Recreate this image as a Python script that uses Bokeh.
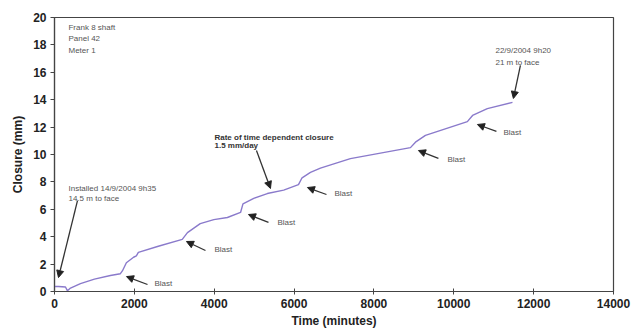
from bokeh.plotting import figure
from bokeh.models import Range1d, Arrow, NormalHead, Label, FixedTicker
from bokeh.embed import file_html
from bokeh.resources import INLINE

time_min = [0, 100, 275, 325, 400, 650, 1000, 1400, 1650, 1700, 1800, 1980, 2050, 2100,
            2600, 3200, 3330, 3650, 3990, 4330, 4660, 4720, 4990, 5330, 5740, 6110,
            6200, 6410, 6660, 7410, 8915, 9040, 9290, 10340, 10470, 10840, 11470]
closure_mm = [0.37, 0.37, 0.33, 0.05, 0.25, 0.58, 0.9, 1.17, 1.3, 1.5, 2.1, 2.5, 2.6, 2.85,
              3.3, 3.8, 4.3, 4.95, 5.25, 5.4, 5.77, 6.4, 6.8, 7.15, 7.4, 7.8,
              8.3, 8.7, 9.0, 9.7, 10.5, 10.9, 11.4, 12.4, 12.85, 13.35, 13.8]

x_ticks = [0, 2000, 4000, 6000, 8000, 10000, 12000, 14000]
y_ticks = [0, 2, 4, 6, 8, 10, 12, 14, 16, 18, 20]

# Blast annotations: text anchor, arrow tail, arrow tip
blast_text_x = [2504, 4006, 5584, 7011, 9841, 11243]
blast_text_y = [0.58, 3.07, 5.04, 7.15, 9.64, 11.61]
blast_tail_x = [2329, 3781, 5359, 6811, 9615, 11068]
blast_tail_y = [0.51, 2.99, 5.04, 7.08, 9.71, 11.68]
blast_tip_x = [1803, 3305, 4858, 6335, 9115, 10592]
blast_tip_y = [1.09, 3.65, 5.62, 7.59, 10.29, 12.19]

FONT = "Liberation Sans"

p = figure(width=631, height=333, output_backend="svg", toolbar_location=None,
           x_range=Range1d(0, 14000), y_range=Range1d(0, 20),
           min_border_left=54, min_border_right=18, min_border_top=17, min_border_bottom=42)
p.background_fill_color = "white"
p.border_fill_color = "white"
p.outline_line_color = "#444444"
p.outline_line_width = 1.2
p.xgrid.visible = False
p.ygrid.visible = False

p.line(time_min, closure_mm, line_color="#8a7acb", line_width=1.4)

for ax in (p.xaxis, p.yaxis):
    ax.axis_line_color = "#444444"
    ax.axis_line_width = 1.2
    ax.major_tick_line_color = "#444444"
    ax.minor_tick_line_color = None
    ax.major_label_text_font = FONT
    ax.major_label_text_font_style = "bold"
    ax.major_label_text_font_size = "12px"
    ax.major_label_text_color = "#222222"
    ax.axis_label_text_font = FONT
    ax.axis_label_text_font_style = "bold"
    ax.axis_label_text_font_size = "12px"
    ax.axis_label_text_color = "#222222"

p.xaxis.ticker = FixedTicker(ticks=x_ticks)
p.yaxis.ticker = FixedTicker(ticks=y_ticks)
p.xaxis.major_tick_in = 3
p.xaxis.major_tick_out = 3
p.yaxis.major_tick_in = 0
p.yaxis.major_tick_out = 4
p.xaxis.major_label_standoff = 4
p.xaxis.axis_label_standoff = 3
p.yaxis.major_label_standoff = 4
p.yaxis.axis_label_standoff = 5
p.xaxis.axis_label = "Time (minutes)"
p.yaxis.axis_label = "Closure (mm)"

def add_label(x, y, txt, bold=False, color="#555555"):
    p.add_layout(Label(x=x, y=y, text=txt, text_font=FONT, text_font_size="8px",
                       text_color=color, text_baseline="middle", text_align="left",
                       text_font_style="bold" if bold else "normal"))

def add_arrow(x0, y0, x1, y1):
    p.add_layout(Arrow(end=NormalHead(size=7, fill_color="#222222", line_color="#222222"),
                       x_start=x0, y_start=y0, x_end=x1, y_end=y1,
                       line_color="#333333", line_width=1.3))

add_label(350, 19.27, "Frank 8 shaft")
add_label(350, 18.45, "Panel 42")
add_label(350, 17.62, "Meter 1")

add_label(350, 7.52, "Installed 14/9/2004 9h35")
add_label(350, 6.79, "14.5 m to face")
add_arrow(576, 6.64, 100, 1.02)

add_label(4006, 11.24, "Rate of time dependent closure", bold=True, color="#333333")
add_label(4006, 10.66, "1.5 mm/day", bold=True, color="#333333")
add_arrow(5058, 10.29, 5409, 7.52)

add_label(11043, 17.59, "22/9/2004 9h20")
add_label(11043, 16.72, "21 m to face")
add_arrow(11669, 16.5, 11493, 14.09)

for tx, ty, ax0, ay0, ax1, ay1 in zip(blast_text_x, blast_text_y, blast_tail_x,
                                      blast_tail_y, blast_tip_x, blast_tip_y):
    add_label(tx, ty, "Blast")
    add_arrow(ax0, ay0, ax1, ay1)

open("out.html", "w").write(file_html(p, INLINE))
